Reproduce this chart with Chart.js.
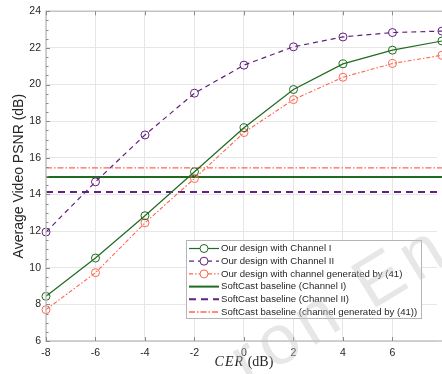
<!DOCTYPE html>
<html>
<head>
<meta charset="utf-8">
<script src="https://cdn.jsdelivr.net/npm/chart.js@4/dist/chart.umd.min.js"></script>
<style>
  html, body { margin: 0; padding: 0; background: #fff; }
  #wrap { width: 442px; height: 374px; }
</style>
</head>
<body>
<div id="wrap"><canvas id="psnrChart" width="442" height="374"></canvas></div>
<script>
/* ---- Data (PSNR in dB vs CER in dB) ---- */
const cer = [-8, -6, -4, -2, 0, 2, 4, 6, 8];
const oursChannelI   = [8.44, 10.53, 12.84, 15.24, 17.64, 19.73, 21.13, 21.88, 22.38];
const oursChannelII  = [11.95, 14.69, 17.25, 19.53, 21.06, 22.06, 22.6, 22.84, 22.92];
const oursGenerated  = [7.71, 9.73, 12.45, 14.87, 17.38, 19.18, 20.4, 21.15, 21.6];
const softcastI      = [14.95, 14.95, 14.95, 14.95, 14.95, 14.95, 14.95, 14.95, 14.95];
const softcastII     = [14.13, 14.13, 14.13, 14.13, 14.13, 14.13, 14.13, 14.13, 14.13];
const softcastGen    = [15.45, 15.45, 15.45, 15.45, 15.45, 15.45, 15.45, 15.45, 15.45];
const xTicks = [-8, -6, -4, -2, 0, 2, 4, 6];
const yTicks = [6, 8, 10, 12, 14, 16, 18, 20, 22, 24];

const GREEN = "#1f6b1f";
const PURPLE = "#62207f";
const RED = "#ff6650";
const TEXT = "#262626";
const SANS = "'Liberation Sans', Arial, sans-serif";
const SERIF = "'Liberation Serif', 'Times New Roman', serif";

const pts = (ys) => ys.map((y, i) => ({ x: cer[i], y }));

function series(label, ys, color, opts = {}) {
  return {
    label,
    data: pts(ys),
    borderColor: color,
    borderWidth: 1.2,
    pointRadius: 4,
    pointBorderWidth: 1,
    pointBorderColor: color,
    pointBackgroundColor: "rgba(0,0,0,0)",
    pointHoverRadius: 4,
    tension: 0,
    fill: false,
    clip: false,
    ...opts,
  };
}

const datasets = [
  series("Our design with Channel I", oursChannelI, GREEN),
  series("Our design with Channel II", oursChannelII, PURPLE, { borderDash: [5, 4] }),
  series("Our design with channel generated by (41)", oursGenerated, RED, { borderWidth: 1.1, borderDash: [4, 2, 1.5, 2] }),
  series("SoftCast baseline (Channel I)", softcastI, GREEN, { borderWidth: 2, pointRadius: 0 }),
  series("SoftCast baseline (Channel II)", softcastII, PURPLE, { borderWidth: 2, pointRadius: 0, borderDash: [7, 5] }),
  series("SoftCast baseline (channel generated by (41))", softcastGen, RED, { borderWidth: 1.3, pointRadius: 0, borderDash: [6, 2, 1.5, 2] }),
];

/* ---- Axis box, inward ticks, titles ---- */
const frame = {
  id: "frame",
  afterDatasetsDraw(chart) {
    const { ctx, chartArea: a, scales: { x, y } } = chart;
    ctx.save();
    ctx.strokeStyle = "#c4c4c4";
    ctx.lineWidth = 1.5;
    ctx.beginPath();
    ctx.moveTo(chart.width, a.top); ctx.lineTo(a.left, a.top);
    ctx.lineTo(a.left, a.bottom); ctx.lineTo(chart.width, a.bottom);
    ctx.stroke();

    ctx.strokeStyle = "#8a8a8a";
    ctx.lineWidth = 1;
    ctx.beginPath();
    xTicks.forEach((v) => {
      const px = Math.round(x.getPixelForValue(v)) + 0.5;
      ctx.moveTo(px, a.bottom); ctx.lineTo(px, a.bottom - 4);
      ctx.moveTo(px, a.top); ctx.lineTo(px, a.top + 4);
    });
    for (let v = 6; v <= 24; v += 0.5) {
      const py = Math.round(y.getPixelForValue(v)) + 0.5;
      const len = v % 2 === 0 ? 4 : 2.5;
      ctx.moveTo(a.left, py); ctx.lineTo(a.left + len, py);
    }
    ctx.stroke();

    // y title
    ctx.fillStyle = TEXT;
    ctx.font = `14px ${SANS}`;
    ctx.textAlign = "center";
    ctx.textBaseline = "middle";
    ctx.translate(19, (a.top + a.bottom) / 2);
    ctx.rotate(-Math.PI / 2);
    ctx.fillText("Average Video PSNR (dB)", 0, 0);
    ctx.setTransform(1, 0, 0, 1, 0, 0);

    // x title: italic CER, upright unit
    ctx.textAlign = "left";
    ctx.textBaseline = "alphabetic";
    const italic = `italic 14px ${SERIF}`;
    const roman = `14px ${SERIF}`;
    ctx.font = italic;
    const w1 = ctx.measureText("CER").width * 1.12;
    ctx.font = roman;
    const w2 = ctx.measureText(" (dB)").width;
    const tx = x.getPixelForValue(0) - (w1 + w2) / 2;
    ctx.font = italic;
    let cx = tx;
    for (const ch of "CER") {
      ctx.fillText(ch, cx, 366);
      cx += ctx.measureText(ch).width * 1.12;
    }
    ctx.font = roman;
    ctx.fillText(" (dB)", tx + w1, 366);
    ctx.restore();
  },
};

/* ---- Legend box inside the plot ---- */
const insideLegend = {
  id: "insideLegend",
  afterDraw(chart) {
    const { ctx } = chart;
    const box = { x: 186, y: 240, w: 236, h: 79 };
    ctx.save();
    ctx.fillStyle = "#fff";
    ctx.fillRect(box.x, box.y, box.w, box.h);
    ctx.strokeStyle = "#b5b5b5";
    ctx.lineWidth = 1;
    ctx.strokeRect(box.x + 0.5, box.y + 0.5, box.w - 1, box.h - 1);
    ctx.font = `9.6px ${SANS}`;
    ctx.textBaseline = "middle";
    chart.data.datasets.forEach((ds, i) => {
      const ry = 248.5 + i * 12.7;
      ctx.strokeStyle = ds.borderColor;
      ctx.lineWidth = ds.borderWidth;
      ctx.setLineDash(ds.borderDash || []);
      ctx.beginPath();
      ctx.moveTo(189, ry); ctx.lineTo(219, ry);
      ctx.stroke();
      ctx.setLineDash([]);
      if (ds.pointRadius > 0) {
        ctx.lineWidth = 1;
        ctx.beginPath();
        ctx.arc(204, ry, 4, 0, Math.PI * 2);
        ctx.fillStyle = "#fff";
        ctx.fill();
        ctx.stroke();
      }
      ctx.fillStyle = TEXT;
      ctx.fillText(ds.label, 221, ry);
    });
    ctx.restore();
  },
};

/* ---- Faint publisher watermark ---- */
const watermark = {
  id: "watermark",
  afterDraw(chart) {
    const { ctx } = chart;
    ctx.save();
    ctx.translate(248, 386);
    ctx.rotate(-0.55);
    ctx.font = `70px ${SANS}`;
    ctx.letterSpacing = "6px";
    ctx.fillStyle = "rgba(195,195,195,0.4)";
    ctx.fillText("ron Eng", 0, 0);
    ctx.restore();
  },
};

new Chart(document.getElementById("psnrChart"), {
  type: "line",
  data: { datasets },
  options: {
    responsive: false,
    animation: false,
    events: [],
    layout: { padding: { left: 0, top: 11, right: 1, bottom: 0 } },
    plugins: { legend: { display: false }, tooltip: { enabled: false } },
    scales: {
      x: {
        type: "linear",
        min: -8,
        max: 7.8,
        afterBuildTicks: (s) => { s.ticks = xTicks.map((v) => ({ value: v })); },
        afterFit: (s) => { s.height = 33; },
        grid: { color: "#e6e6e6", drawTicks: false },
        border: { display: false },
        ticks: { color: TEXT, font: { family: SANS, size: 10.5 }, padding: 6, maxRotation: 0 },
      },
      y: {
        min: 6,
        max: 24,
        afterBuildTicks: (s) => { s.ticks = yTicks.map((v) => ({ value: v })); },
        afterFit: (s) => { s.width = 46; },
        grid: { color: "#e6e6e6", drawTicks: false },
        border: { display: false },
        ticks: { color: TEXT, font: { family: SANS, size: 10.5 }, padding: 5 },
      },
    },
  },
  plugins: [frame, insideLegend, watermark],
});
</script>
</body>
</html>
